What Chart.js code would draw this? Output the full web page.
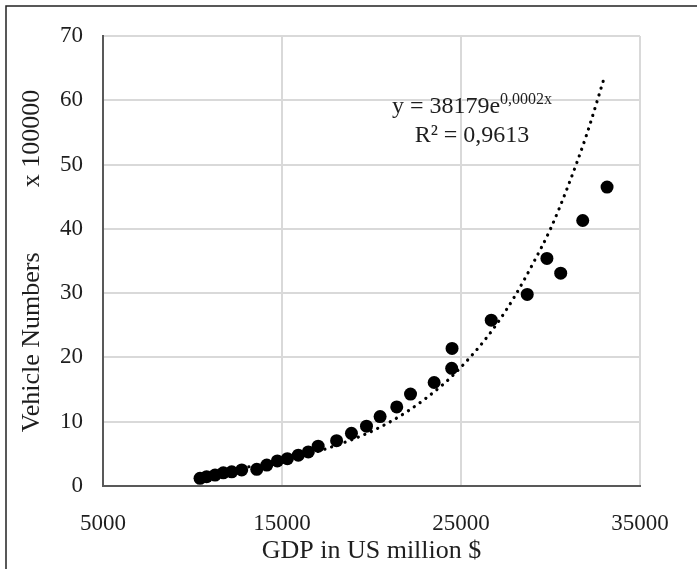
<!DOCTYPE html>
<html>
<head>
<meta charset="utf-8">
<script src="https://cdn.jsdelivr.net/npm/chart.js@4.4.1/dist/chart.umd.min.js"></script>
<style>
  html, body { margin: 0; padding: 0; background: #fff; }
  #wrap { position: relative; width: 697px; height: 569px; }
</style>
</head>
<body>
<div id="wrap"><canvas id="c"></canvas></div>
<script>
// GDP (US million $) and vehicle numbers (x 100000)
const gdp = [10420, 10790, 11260, 11720, 12190, 12750, 13590, 14150, 14740, 15300,
             15910, 16470, 17020, 18050, 18880, 19720, 20480, 21410, 22180, 23500,
             24480, 24500, 26690, 28700, 29800, 30570, 31800, 33160];
const vehicles = [1.2, 1.45, 1.7, 2.05, 2.2, 2.5, 2.6, 3.25, 3.9, 4.25,
                  4.8, 5.3, 6.2, 7.05, 8.2, 9.3, 10.8, 12.3, 14.3, 16.1,
                  18.3, 21.4, 25.8, 29.8, 35.4, 33.1, 41.3, 46.5];
// dotted trendline
const trendX = [10400, 12000, 14000, 16000, 18000, 20000, 22000, 24000, 25000,
                26000, 27000, 28000, 29000, 30000, 31000, 32000, 33035];
const trendY = [1.9, 2.5, 3.4, 4.6, 6.3, 8.5, 11.6, 15.8, 18.5,
                21.6, 25.2, 29.5, 34.5, 40.0, 46.8, 54.5, 63.8];
const xTicks = [5000, 15000, 25000, 35000];
const yTicks = [0, 10, 20, 30, 40, 50, 60, 70];
const equationMain = 'y = 38179e';
const equationExp = '0,0002x';
const rSquared = 'R² = 0,9613';
const xTitle = 'GDP in US million $';
const yTitle = 'Vehicle Numbers          x 100000';

const SERIF = '"Liberation Serif", "Times New Roman", serif';
const TXT = '#1e1e1e';

const overlay = {
  id: 'overlay',
  afterDraw(chart) {
    const ctx = chart.ctx;
    ctx.save();
    // outer frame
    ctx.strokeStyle = '#222';
    ctx.lineWidth = 1.5;
    ctx.strokeRect(6, 6, 720, 600);
    // equation
    ctx.fillStyle = TXT;
    ctx.textBaseline = 'alphabetic';
    ctx.font = '24px ' + SERIF;
    const w1 = ctx.measureText(equationMain).width;
    ctx.font = '16px ' + SERIF;
    const w2 = ctx.measureText(equationExp).width;
    const cx = 472;
    let x0 = cx - (w1 + w2) / 2;
    ctx.font = '24px ' + SERIF;
    ctx.textAlign = 'left';
    ctx.fillText(equationMain, x0, 113);
    ctx.font = '16px ' + SERIF;
    ctx.fillText(equationExp, x0 + w1, 104);
    ctx.font = '24px ' + SERIF;
    ctx.textAlign = 'center';
    ctx.fillText(rSquared, cx, 142);
    ctx.restore();
  }
};

new Chart(document.getElementById('c'), {
  data: {
    datasets: [
      {
        type: 'scatter',
        data: gdp.map((g, i) => ({ x: g, y: vehicles[i] })),
        backgroundColor: '#000',
        borderWidth: 0,
        pointRadius: 6.5,
        order: 0
      },
      {
        type: 'line',
        data: trendX.map((g, i) => ({ x: g, y: trendY[i] })),
        borderColor: '#000',
        borderWidth: 3.2,
        borderDash: [0.1, 7],
        borderCapStyle: 'round',
        pointRadius: 0,
        fill: false,
        cubicInterpolationMode: 'monotone',
        order: 1
      }
    ]
  },
  options: {
    responsive: true,
    maintainAspectRatio: false,
    animation: false,
    devicePixelRatio: 1,
    layout: { padding: { left: 0, right: 57, top: 36, bottom: 0 } },
    plugins: { legend: { display: false }, tooltip: { enabled: false } },
    scales: {
      x: {
        type: 'linear',
        min: 5000, max: 35000,
        afterBuildTicks: s => { s.ticks = xTicks.map(v => ({ value: v })); },
        afterFit: s => { s.height = 83; },
        grid: { color: '#d9d9d9', lineWidth: 2, drawTicks: false },
        border: { color: '#595959', width: 2 },
        ticks: { color: TXT, font: { family: SERIF, size: 23 }, padding: 24, maxRotation: 0,
                 callback: v => String(v) },
        title: { display: true, text: xTitle, color: TXT, font: { family: SERIF, size: 26 }, padding: { top: 0, bottom: 2 } }
      },
      y: {
        type: 'linear',
        min: 0, max: 70,
        afterBuildTicks: s => { s.ticks = yTicks.map(v => ({ value: v })); },
        afterFit: s => { s.width = 103; },
        grid: { color: '#d9d9d9', lineWidth: 2, drawTicks: false },
        border: { color: '#595959', width: 2 },
        ticks: { color: TXT, font: { family: SERIF, size: 23 }, padding: 20,
                 callback: v => String(v) },
        title: { display: true, text: yTitle, color: TXT, font: { family: SERIF, size: 26 }, padding: { top: 17, bottom: 0 } }
      }
    }
  },
  plugins: [overlay]
});
</script>
</body>
</html>
